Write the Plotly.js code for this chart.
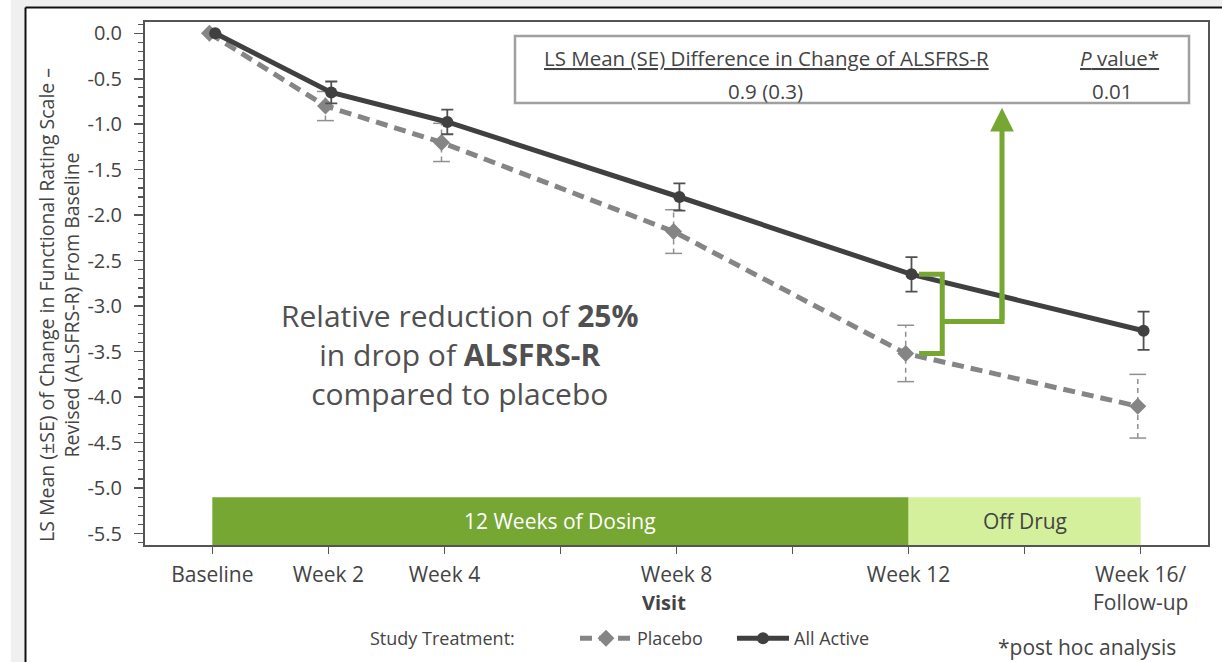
<!DOCTYPE html>
<html>
<head>
<meta charset="utf-8">
<script src="https://cdn.plot.ly/plotly-3.0.1.min.js"></script>
<style>html,body{margin:0;padding:0;background:#fff;}#chart{width:1222px;height:662px;}</style>
</head>
<body>
<div id="chart"></div>
<script>
// ---- data ----
const weeks = [0, 2, 4, 8, 12, 16];
const xTickVals = [0, 2, 4, 6, 8, 10, 12, 14, 16];
const xTickText = ['Baseline', 'Week 2', 'Week 4', '', 'Week 8', '', 'Week 12', '', 'Week 16/<br>Follow-up'];
const yTickVals = [0, -0.5, -1, -1.5, -2, -2.5, -3, -3.5, -4, -4.5, -5, -5.5];
const yTickText = ['0.0', '-0.5', '-1.0', '-1.5', '-2.0', '-2.5', '-3.0', '-3.5', '-4.0', '-4.5', '-5.0', '-5.5'];
const activeMean = [0, -0.65, -0.975, -1.80, -2.65, -3.27];
const activeSE = [0, 0.12, 0.135, 0.15, 0.19, 0.21];
const placeboMean = [0, -0.80, -1.20, -2.18, -3.52, -4.10];
const placeboSE = [0, 0.16, 0.21, 0.24, 0.31, 0.35];
const phaseLabels = ['12 Weeks of Dosing', 'Off Drug'];
const phaseStart = [0, 12];
const phaseEnd = [12, 16];
const legendNames = ['Placebo', 'All Active'];
const calloutText = 'Relative reduction of <b>25%</b><br>in drop of <b>ALSFRS-R</b><br>compared to placebo';

// ---- style / layout constants ----
const FONT = 'Open Sans, sans-serif';
const TXT = '#444444';
const ACTIVE_C = '#404040';
const PLACEBO_C = '#858585';
const GREEN = '#76a733';
const LIGHT_GREEN = '#d5f09c';
const DODGE = 0.05;
const Y_MIN = -5.626, Y_MAX = 0.124;
const PHASE_TOP = -5.1;

const xActive = weeks.map(w => w + DODGE);
const xPlacebo = weeks.map(w => w - DODGE);

// placebo dashed error bars
const pErrX = [], pErrY = [], pCapX = [], pCapY = [];
weeks.forEach((w, i) => {
  if (placeboSE[i] > 0) {
    pErrX.push(xPlacebo[i], xPlacebo[i], null);
    pErrY.push(placeboMean[i] - placeboSE[i], placeboMean[i] + placeboSE[i], null);
    pCapX.push(xPlacebo[i], xPlacebo[i]);
    pCapY.push(placeboMean[i] - placeboSE[i], placeboMean[i] + placeboSE[i]);
  }
});

const traces = [
  { x: pErrX, y: pErrY, mode: 'lines', line: { color: '#909090', width: 1.5, dash: '5px,4px' },
    showlegend: false, hoverinfo: 'skip' },
  { x: pCapX, y: pCapY, mode: 'markers', marker: { symbol: 'line-ew', size: 12, line: { color: '#909090', width: 1.5 } },
    showlegend: false, hoverinfo: 'skip' },
  { x: xPlacebo, y: placeboMean, name: legendNames[0], mode: 'lines+markers',
    line: { color: PLACEBO_C, width: 5, dash: '12px,7px' },
    marker: { symbol: 'diamond', size: 13, color: PLACEBO_C } },
  { x: xActive, y: activeMean, name: legendNames[1], mode: 'lines+markers',
    line: { color: ACTIVE_C, width: 5 },
    marker: { symbol: 'circle', size: 12, color: ACTIVE_C },
    error_y: { type: 'data', array: activeSE, visible: true, color: '#505050', thickness: 1.8, width: 6 } }
];

// paper helpers for px positions (plot area 145..1208 x, 22..545 y)
const PL = 145, PR = 1208, PT = 22, PB = 545;
const px = v => (v - PL) / (PR - PL);
const py = v => (PB - v) / (PB - PT);

const shapes = [
  // outer gray surround and black frame
  { type: 'rect', xref: 'paper', yref: 'paper', x0: px(11), x1: px(25), y0: py(662), y1: py(0), fillcolor: '#f0f0f0', line: { width: 0 }, layer: 'below' },
  { type: 'rect', xref: 'paper', yref: 'paper', x0: px(11), x1: px(1222), y0: py(6.5), y1: py(0), fillcolor: '#f0f0f0', line: { width: 0 }, layer: 'below' },
  { type: 'line', xref: 'paper', yref: 'paper', x0: px(25.5), x1: px(1222), y0: py(7.5), y1: py(7.5), line: { color: '#111', width: 2 } },
  { type: 'line', xref: 'paper', yref: 'paper', x0: px(25.5), x1: px(25.5), y0: py(7.5), y1: py(662), line: { color: '#111', width: 2 } },
  // difference box
  { type: 'rect', xref: 'paper', yref: 'paper', x0: px(515), x1: px(1189), y0: py(103), y1: py(36), fillcolor: '#ffffff', line: { color: '#a0a0a0', width: 2.5 } }
];
// phase bars
const phaseFill = [GREEN, LIGHT_GREEN];
phaseLabels.forEach((lab, i) => {
  shapes.push({ type: 'rect', xref: 'x', yref: 'y', x0: phaseStart[i], x1: phaseEnd[i], y0: Y_MIN, y1: PHASE_TOP,
    fillcolor: phaseFill[i], line: { width: 0 }, layer: 'below' });
});
// green bracket between week-12 means
const iW12 = weeks.indexOf(12);
const yA = activeMean[iW12], yP = placeboMean[iW12];
const bx0 = 12.18, bxv = 12.58, bxa = 13.61, yMid = -3.17, yTip = -0.82;
shapes.push({ type: 'path', xref: 'x', yref: 'y',
  path: `M${bx0},${yA} L${bxv},${yA} L${bxv},${yP} L${bx0},${yP} M${bxv},${yMid} L${bxa},${yMid} L${bxa},${yMid + 0.3}`,
  line: { color: GREEN, width: 5 } });

function note(x, y, text, size, extra) {
  return Object.assign({ xref: 'paper', yref: 'paper', x: px(x), y: py(y), xanchor: 'center', yanchor: 'middle',
    showarrow: false, text: text, font: { size: size, color: TXT, family: FONT } }, extra || {});
}

const phaseTextColor = ['#ffffff', TXT];
const annotations = [
  note(59, 305, 'LS Mean (±SE) of Change in Functional Rating Scale –<br>Revised (ALSFRS-R) From Baseline', 19.5, { textangle: -90 }),
  note(664, 602, '<b>Visit</b>', 20),
  note(517, 638, 'Study Treatment:', 18, { xanchor: 'right' }),
  note(1178, 647, '*post hoc analysis', 21, { xanchor: 'right' }),
  note(766, 58, '<u>LS Mean (SE) Difference in Change of ALSFRS-R</u>', 20.5),
  note(765, 91, '0.9 (0.3)', 20.5),
  note(1119, 58, '<u><i>P</i> value*</u>', 20.5),
  note(1112, 91, '0.01', 20.5),
  note(460, 354, calloutText, 30, { font: { size: 30, color: '#505050', family: FONT } }),
  // arrow
  { xref: 'x', yref: 'y', axref: 'x', ayref: 'y', x: bxa, y: yTip, ax: bxa, ay: yMid, text: '', showarrow: true,
    arrowhead: 2, arrowsize: 0.95, arrowwidth: 5, arrowcolor: GREEN, standoff: 0 }
];
phaseLabels.forEach((lab, i) => {
  annotations.push({ xref: 'x', yref: 'y', x: (phaseStart[i] + phaseEnd[i]) / 2, y: (Y_MIN + PHASE_TOP) / 2,
    xanchor: 'center', yanchor: 'middle',
    showarrow: false, text: lab, font: { size: 21, color: phaseTextColor[i], family: FONT } });
});

const layout = {
  width: 1222, height: 662,
  margin: { l: PL, r: 1222 - PR, t: PT, b: 662 - PB, autoexpand: false },
  paper_bgcolor: '#ffffff', plot_bgcolor: '#ffffff',
  font: { family: FONT, color: TXT },
  showlegend: true,
  legend: { orientation: 'h', x: px(575), y: py(620), xanchor: 'left', yanchor: 'top',
    font: { size: 18, color: TXT, family: FONT }, bgcolor: 'rgba(0,0,0,0)', itemwidth: 52,
    entrywidth: 90, entrywidthmode: 'pixels' },
  xaxis: { range: [-1.16, 17.16], tickmode: 'array', tickvals: xTickVals, ticktext: xTickText,
    ticks: 'outside', ticklen: 7, tickwidth: 1.5, tickcolor: '#555',
    showline: true, linecolor: '#555', linewidth: 2, mirror: true,
    showgrid: false, zeroline: false, tickfont: { size: 21, color: TXT, family: FONT }, ticklabelstandoff: 3 },
  yaxis: { range: [Y_MIN, Y_MAX], tickmode: 'array', tickvals: yTickVals, ticktext: yTickText,
    ticks: 'outside', ticklen: 9, tickwidth: 1.5, tickcolor: '#555',
    minor: { tickmode: 'linear', tick0: 0, dtick: 0.1, ticks: 'outside', ticklen: 5, tickwidth: 1.2, tickcolor: '#555', showgrid: false },
    showline: true, linecolor: '#555', linewidth: 2, mirror: true,
    showgrid: false, zeroline: false, tickfont: { size: 20, color: TXT, family: FONT }, ticklabelstandoff: 8 },
  shapes: shapes,
  annotations: annotations
};

Plotly.newPlot('chart', traces, layout, { displayModeBar: false, staticPlot: true });
</script>
</body>
</html>
